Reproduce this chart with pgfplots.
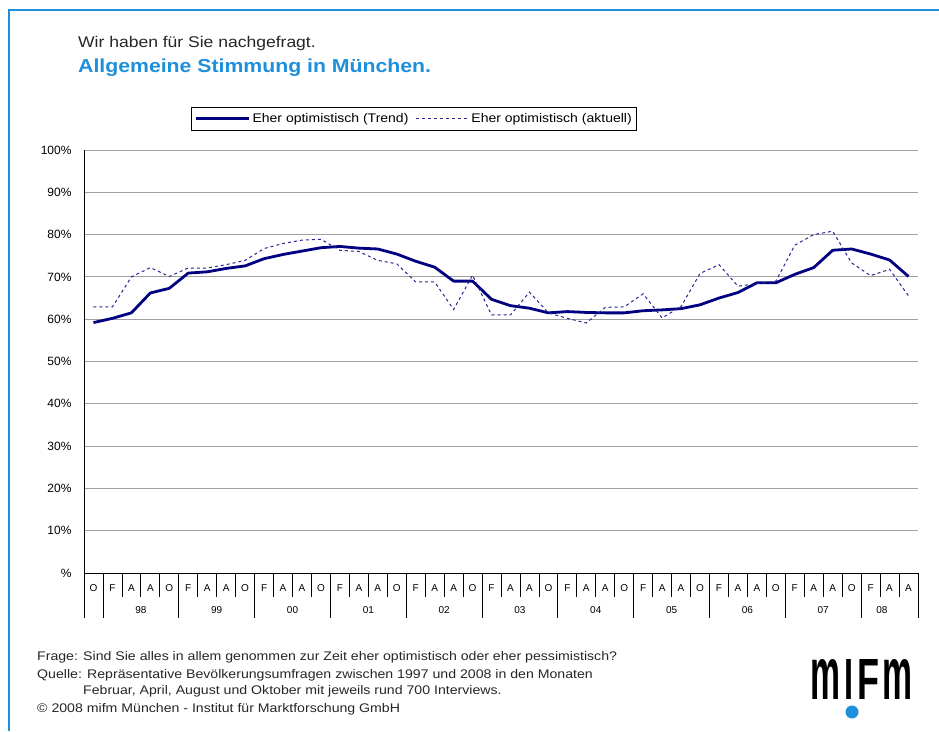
\documentclass[border=0pt]{standalone}
\usepackage{fontspec}
\setmainfont{Liberation Sans}
\newfontfamily\widefont[FakeStretch=1.13]{Liberation Sans}
\newfontfamily\legfont[FakeStretch=1.12]{Liberation Sans}
\usepackage{graphicx}
\usepackage{pgfplots}
\usepackage{pgfplotstable}
\pgfplotsset{compat=1.18}
\definecolor{mblue}{HTML}{1E8FDB}
\definecolor{navy}{HTML}{000080}
\definecolor{gridgray}{HTML}{A0A0A0}

\pgfplotstableread{
x trend akt
0 59.2 62.9
1 60.2 62.9
2 61.5 70.0
3 66.2 72.2
4 67.3 70.1
5 70.9 72.1
6 71.2 72.1
7 72.0 72.9
8 72.6 73.9
9 74.3 76.7
10 75.3 77.9
11 76.1 78.7
12 76.9 78.9
13 77.2 76.3
14 76.8 76.0
15 76.6 73.9
16 75.4 73.1
17 73.7 68.8
18 72.3 68.8
19 69.0 62.3
20 69.0 70.4
21 64.7 61.0
22 63.2 61.0
23 62.6 66.4
24 61.5 61.5
25 61.8 60.2
26 61.6 59.1
27 61.5 62.8
28 61.5 62.9
29 62.0 66.0
30 62.2 60.3
31 62.5 63.0
32 63.4 70.8
33 65.0 72.9
34 66.3 67.8
35 68.6 68.4
36 68.6 69.0
37 70.6 77.5
38 72.2 80.0
39 76.3 80.8
40 76.6 73.3
41 75.4 70.3
42 74.0 71.8
43 70.1 65.5
}\data

\begin{document}
\begin{tikzpicture}[x=1pt,y=1pt]
\path[use as bounding box] (0,0) rectangle (939,731);
% frame
\draw[mblue, line width=2pt] (9,0) -- (9,721) -- (939,721);
% titles
\node[anchor=west, inner sep=0pt, text=black!85] at (78,687) {\widefont\fontsize{15.5}{17}\selectfont Wir haben für Sie nachgefragt.};
\node[anchor=west, inner sep=0pt, text=mblue] at (78,663) {\widefont\fontsize{18.8}{21}\selectfont\bfseries Allgemeine Stimmung in München.};

\begin{axis}[
  at={(84pt,158pt)}, anchor=south west,
  width=834pt, height=423pt, scale only axis,
  xmin=-0.5, xmax=43.5, ymin=0, ymax=100,
  axis x line*=bottom, axis y line*=left,
  axis line style={black, line width=0.8pt},
  ytick={0,10,...,100},
  yticklabels={\%,10\%,20\%,30\%,40\%,50\%,60\%,70\%,80\%,90\%,100\%},
  y tick label style={font=\fontsize{12}{14}\selectfont, xshift=-9pt},
  ymajorgrids, grid style={gridgray, line width=0.9pt},
  major tick length=0pt,
  xtick={0,...,43},
  xticklabels={O,F,A,A,O,F,A,A,O,F,A,A,O,F,A,A,O,F,A,A,O,F,A,A,O,F,A,A,O,F,A,A,O,F,A,A,O,F,A,A,O,F,A,A},
  x tick label style={font=\fontsize{10}{12}\selectfont, anchor=center, yshift=-15pt},
  extra x ticks={2.5,6.5,10.5,14.5,18.5,22.5,26.5,30.5,34.5,38.5,41.6},
  extra x tick labels={98,99,00,01,02,03,04,05,06,07,08},
  extra x tick style={grid=none, tick label style={yshift=-22pt}},
  clip=false,
  legend columns=2,
  legend style={at={(0.396,1)}, anchor=south, yshift=19pt, draw=black, line width=0.8pt,
    font=\legfont\fontsize{12.5}{14}\selectfont, inner xsep=3pt, inner ysep=4.5pt,
    /tikz/every even column/.append style={column sep=5pt}},
  legend cell align=left,
  legend image code/.code={\draw[#1] (0pt,0pt) -- (53pt,0pt);},
]
\addplot[navy, line width=2.8pt, line join=round] table[x=x, y=trend] {\data};
\addlegendentry{Eher optimistisch (Trend)}
\addplot[navy!85!white, line width=1pt, dash pattern=on 3pt off 3pt] table[x=x, y=akt] {\data};
\addlegendentry{Eher optimistisch (aktuell)}

\pgfplotsinvokeforeach{-0.5,0.5,4.5,8.5,12.5,16.5,20.5,24.5,28.5,32.5,36.5,40.5,43.5}{
  \draw[black, line width=0.8pt] (axis cs:#1,0) -- ++(0pt,-45pt);
}
\pgfplotsinvokeforeach{1.5,2.5,3.5,5.5,6.5,7.5,9.5,10.5,11.5,13.5,14.5,15.5,17.5,18.5,19.5,21.5,22.5,23.5,25.5,26.5,27.5,29.5,30.5,31.5,33.5,34.5,35.5,37.5,38.5,39.5,41.5,42.5}{
  \draw[black, line width=0.8pt] (axis cs:#1,0) -- ++(0pt,-24pt);
}
\end{axis}

% footer
\begin{scope}[every node/.style={anchor=west, inner sep=0pt, text=black!85, font=\widefont\fontsize{12.5}{14}\selectfont}]
\node at (37,74) {Frage: Sind Sie alles in allem genommen zur Zeit eher optimistisch oder eher pessimistisch?};
\node at (37,56) {Quelle: Repräsentative Bevölkerungsumfragen zwischen 1997 und 2008 in den Monaten};
\node at (83,40) {Februar, April, August und Oktober mit jeweils rund 700 Interviews.};
\node at (37,22) {© 2008 mifm München - Institut für Marktforschung GmbH};
\end{scope}
% logo
\node[anchor=south west, inner sep=0pt] at (810,31) {\bfseries
  \resizebox{30pt}{40pt}{m}\hspace{4pt}\resizebox{9pt}{40pt}{I}\hspace{4pt}\resizebox{22pt}{40pt}{F}\hspace{3pt}\resizebox{30pt}{40pt}{m}};
\fill[mblue] (852,19) circle (6.5);
\end{tikzpicture}
\end{document}
